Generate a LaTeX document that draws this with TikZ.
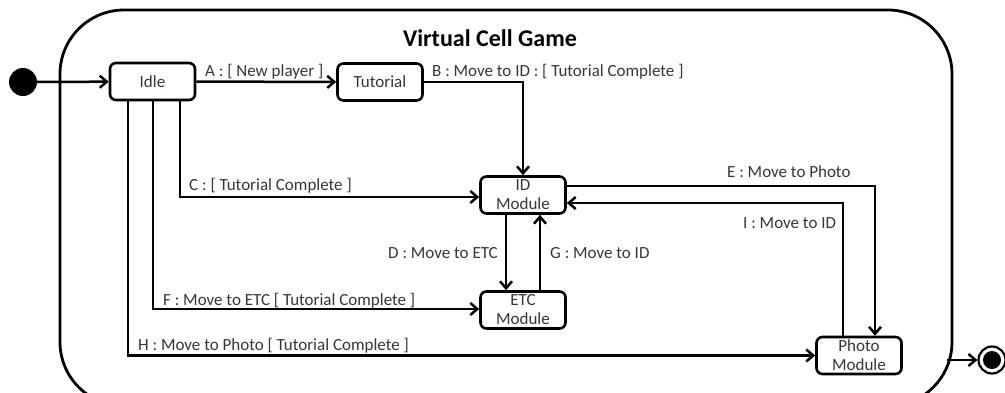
\documentclass[tikz,border=0pt]{standalone}
\usepackage{fontspec}
\setmainfont{Carlito}
\usetikzlibrary{arrows.meta}
\definecolor{txt}{RGB}{58,52,46}
\begin{document}
\begin{tikzpicture}[x=1pt,y=-1pt,
  state/.style={draw, line width=2.6pt, rounded corners=6pt, minimum width=85pt,
    minimum height=37pt, inner sep=0pt, align=center,
    font=\fontsize{17}{19}\selectfont, text=txt},
  tr/.style={line width=2.5pt, -{Straight Barb[length=7pt,width=12pt,line width=2.5pt]}},
  lbl/.style={font=\fontsize{17}{19}\selectfont, text=txt, inner sep=0pt, anchor=base west},
  lblr/.style={lbl, anchor=base east}]
\useasboundingbox (0,0) rectangle (1005,392);
\clip (0,0) rectangle (1005,392);

% composite state
\node[draw, line width=2.8pt, rounded corners=64pt, minimum width=892pt,
  minimum height=396pt, inner sep=0pt] (game) at (506,208) {};
\node[font=\fontsize{24}{28}\selectfont\bfseries, anchor=base] (title) at (490,46) {Virtual Cell Game};

% initial and final pseudo-states
\node[circle, fill=black, minimum size=28pt, inner sep=0pt] (init) at (23,82) {};
\node[circle, draw, line width=2.2pt, minimum size=27pt, inner sep=0pt] (final) at (992,360) {};
\fill (final.center) circle (9);
\coordinate (exit) at (947,360);

% states
\node[state] (idle) at (152.5,81.5) {Idle};
\node[state] (tut) at (380,82) {Tutorial};
\node[state] (id) at (523,195) {ID\\Module};
\node[state] (etc) at (523,310) {ETC\\Module};
\node[state] (photo) at (859,355.5) {Photo\\Module};

% transitions (canvas shifts point up for positive yshift)
\draw[tr] (init) -- (idle);
\draw[tr] (idle) -- (tut);
\draw[tr] (tut.east) -| (id.north);
\draw[tr] ([xshift=27.5pt]idle.south) |- ([yshift=-2pt]id.west);
\draw[tr] ([xshift=0.5pt]idle.south) |- ([yshift=1pt]etc.west);
\draw[tr] ([xshift=-24.5pt]idle.south) |- (photo.west);
\draw[tr] ([yshift=9pt]id.east) -| ([xshift=16pt]photo.north);
\draw[tr] ([xshift=-16pt]photo.north) |- ([yshift=-8pt]id.east);
\draw[tr] ([xshift=-17pt]id.south) -- ([xshift=-17pt]etc.north);
\draw[tr] ([xshift=17pt]etc.north) -- ([xshift=17pt]id.south);
\draw[tr] (exit) -- (final);

% transition labels
\node[lbl] (la) at (205,76) {A : [ New player ]};
\node[lbl] (lb) at (432,76) {B : Move to ID : [ Tutorial Complete ]};
\node[lbl] (lc) at (189,190) {C : [ Tutorial Complete ]};
\node[lblr] (ld) at (498,258) {D : Move to ETC};
\node[lbl] (le) at (727,177) {E : Move to Photo};
\node[lbl] (lf) at (163,305) {F : Move to ETC [ Tutorial Complete ]};
\node[lbl] (lg) at (550,258) {G : Move to ID};
\node[lbl] (lh) at (138,350) {H : Move to Photo [ Tutorial Complete ]};
\node[lbl] (li) at (743,228) {I : Move to ID};
\end{tikzpicture}
\end{document}
